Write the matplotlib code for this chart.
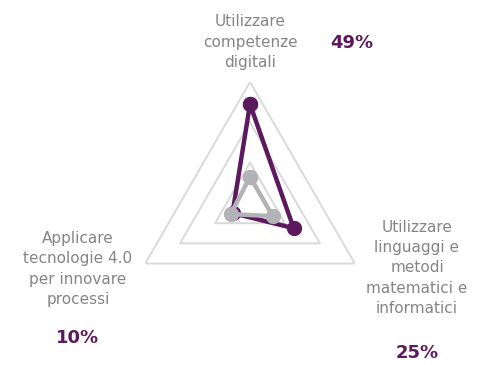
import matplotlib
matplotlib.use("Agg")
import matplotlib.pyplot as plt
import numpy as np

# dati
categorie = ["Utilizzare\ncompetenze\ndigitali",
             "Utilizzare\nlinguaggi e\nmetodi\nmatematici e\ninformatici",
             "Applicare\ntecnologie 4.0\nper innovare\nprocessi"]
serie_viola = [0.49, 0.25, 0.10]
serie_grigia = [0.13, 0.13, 0.11]
etichette_pct = ["49%", "25%", "10%"]
griglia = [0.2, 0.4, 0.6]

viola = "#5c1a5e"
grigio = "#b3b3b7"
testo = "#858585"

fig = plt.figure(figsize=(4.8, 3.65), dpi=100)
ax = fig.add_axes([129/480, 41/365, 242/480, 242/365], projection="polar")
ax.set_theta_offset(np.pi / 2)
ax.set_theta_direction(-1)

angoli = np.linspace(0, 2 * np.pi, len(categorie), endpoint=False)
chiuso = np.append(angoli, angoli[0])

# griglia triangolare
for r in griglia:
    ax.plot(chiuso, [r] * len(chiuso), color="#d9d9d9", lw=1.4, zorder=1)

v = serie_viola + serie_viola[:1]
g = serie_grigia + serie_grigia[:1]
ax.plot(chiuso, v, color=viola, lw=3.2, marker="o", ms=10, zorder=3)
ax.plot(chiuso, g, color=grigio, lw=3.2, marker="o", ms=10, zorder=4)

ax.set_ylim(0, 0.6)
ax.set_xticks([])
ax.set_yticks([])
ax.grid(False)
ax.spines["polar"].set_visible(False)
ax.patch.set_alpha(0)

# etichette
pos_cat = [(250, 42), (417, 268), (78, 269)]
pos_pct = [(352, 43), (417, 353), (78, 338)]
for lab, (x, y) in zip(categorie, pos_cat):
    fig.text(x/480, 1 - y/365, lab, ha="center", va="center",
             fontsize=11, color=testo, linespacing=1.45)
for lab, (x, y) in zip(etichette_pct, pos_pct):
    fig.text(x/480, 1 - y/365, lab, ha="center", va="center",
             fontsize=13, color=viola, fontweight="bold")

fig.savefig("out.png", dpi=100)
